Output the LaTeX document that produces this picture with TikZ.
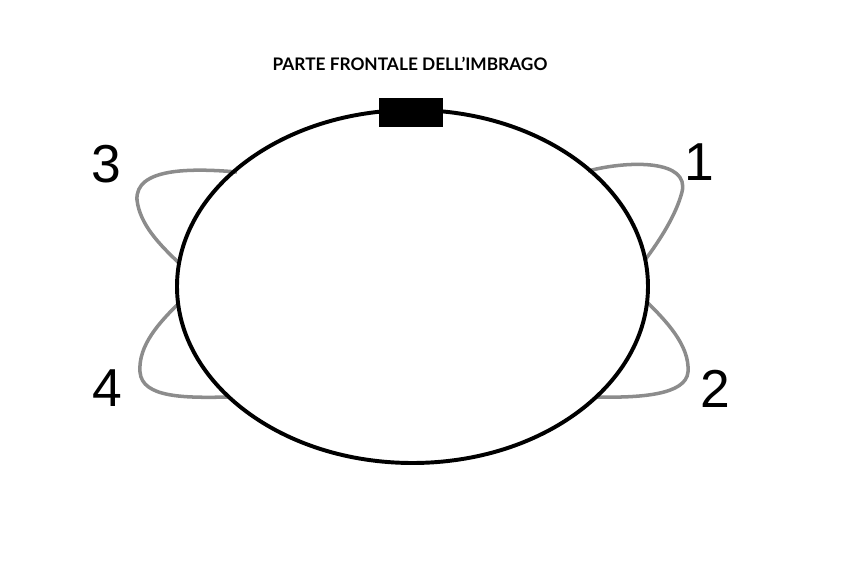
\documentclass[tikz,border=0pt]{standalone}
\usepackage{fontspec}
\setmainfont{Liberation Sans}
\newfontfamily\titlefont{Lato}
\usepackage{tikz}

\begin{document}
\begin{tikzpicture}[x=0.025cm, y=-0.025cm]
    \useasboundingbox (0,0) rectangle (844,563);
    % loops
    \draw[gray!90, line width=2.5pt] (588,171) .. controls (630,160) and (690,160) .. (682,192) .. controls (676,215) and (660,240) .. (645,260);
    \draw[gray!90, line width=2.5pt] (646,301) .. controls (665,320) and (690,345) .. (688,372) .. controls (686,395) and (640,398) .. (595,397);
    \draw[gray!90, line width=2.5pt] (237,172) .. controls (190,168) and (135,168) .. (137,200) .. controls (140,225) and (160,245) .. (180,264);
    \draw[gray!90, line width=2.5pt] (179,303) .. controls (160,322) and (138,345) .. (140,372) .. controls (142,398) and (185,398) .. (230,397);
    % harness
    \draw[black, line width=2.8pt] (412.5,286.5) ellipse [x radius=235.5, y radius=176.5];
    \filldraw[black] (379,98) rectangle (442,126);
    \node (front) at (410,63.5) {\titlefont\fontsize{12.3}{14}\selectfont\bfseries PARTE FRONTALE DELL’IMBRAGO};
    \node (n1) at (699,162) {\fontsize{38}{40}\selectfont 1};
    \node (n2) at (715,389) {\fontsize{38}{40}\selectfont 2};
    \node (n3) at (106,164) {\fontsize{38}{40}\selectfont 3};
    \node (n4) at (107,388) {\fontsize{38}{40}\selectfont 4};
\end{tikzpicture}
\end{document}
